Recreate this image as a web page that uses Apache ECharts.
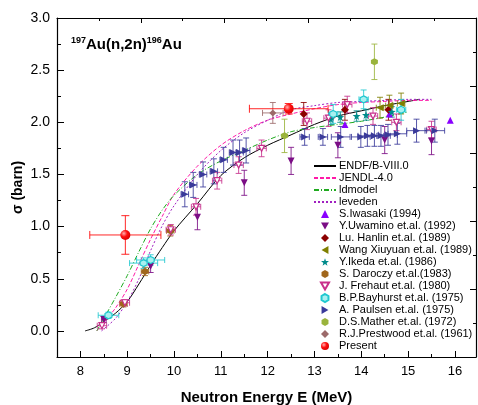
<!DOCTYPE html>
<html>
<head>
<meta charset="utf-8">
<script src="https://cdn.jsdelivr.net/npm/echarts@6/dist/echarts.min.js"></script>
<style>
html, body { margin: 0; padding: 0; background: #fff; }
#main { width: 478px; height: 405px; }
</style>
</head>
<body>
<div id="main"></div>
<script>
var chartDom = document.getElementById('main');
var myChart = echarts.init(chartDom);
var option;

var FONT = 'Liberation Sans, Arial, sans-serif';

// evaluated curves [E (MeV), sigma (barn)]
var endf = [[8.1, 0], [8.3, 0.03], [8.5, 0.09], [8.75, 0.17], [9.0, 0.28], [9.25, 0.45], [9.5, 0.63],
    [9.75, 0.80], [10.0, 0.96], [10.5, 1.22], [11.0, 1.49], [11.5, 1.66], [12.0, 1.78], [12.5, 1.88],
    [13.0, 1.98], [13.5, 2.06], [14.0, 2.11], [14.5, 2.16], [15.0, 2.20], [15.25, 2.22]];
var jendl = [[8.35, 0], [8.5, 0.08], [8.75, 0.22], [9.0, 0.40], [9.25, 0.64], [9.5, 0.88], [9.75, 1.10],
    [10.0, 1.31], [10.5, 1.58], [11.0, 1.78], [11.5, 1.92], [12.0, 2.02], [12.5, 2.08], [13.0, 2.13],
    [13.5, 2.17], [14.0, 2.19], [14.5, 2.20], [15.0, 2.21], [15.5, 2.21]];
var ldmodel = [[8.35, 0], [8.5, 0.12], [8.75, 0.32], [9.0, 0.53], [9.25, 0.76], [9.5, 0.98], [9.75, 1.16],
    [10.0, 1.30], [10.5, 1.50], [11.0, 1.63], [11.5, 1.73], [12.0, 1.83], [12.5, 1.91], [13.0, 1.95],
    [13.5, 1.98], [14.0, 2.01], [14.5, 2.05], [15.0, 2.10]];
var leveden = [[8.45, 0], [8.75, 0.12], [9.0, 0.28], [9.25, 0.50], [9.5, 0.77], [9.75, 1.01], [10.0, 1.20],
    [10.5, 1.50], [11.0, 1.73], [11.5, 1.90], [12.0, 2.02], [12.5, 2.12], [13.0, 2.16], [13.5, 2.19],
    [14.0, 2.20], [14.5, 2.21], [15.0, 2.22], [15.5, 2.22]];

// measurements [E, sigma, dE, dSigma]
var iwasaki = [[13.65, 1.98, 0, 0], [14.6, 2.08, 0, 0], [15.9, 2.02, 0, 0]];
var uwamino = [[8.5, 0.11, 0.05, 0.03], [9.5, 0.62, 0, 0.06], [10.5, 1.09, 0, 0.12], [11.5, 1.42, 0, 0.12],
    [12.5, 1.63, 0, 0.13], [13.5, 1.78, 0, 0.12], [14.5, 1.83, 0, 0.13], [15.5, 1.82, 0, 0.13]];
var luHanlin = [[12.77, 2.08, 0, 0.11], [13.65, 2.12, 0, 0.10], [14.58, 2.12, 0, 0.10]];
var wangXiuyuan = [[14.4, 2.14, 0.08, 0.10], [14.6, 2.16, 0.08, 0.10], [14.85, 2.18, 0.08, 0.10]];
var ikeda = [[13.35, 2.03, 0, 0.05], [13.55, 2.05, 0, 0.05], [13.9, 2.06, 0, 0.05], [14.1, 2.07, 0, 0.05],
    [14.65, 2.10, 0, 0.05]];
var daroczy = [[8.92, 0.26, 0.08, 0.03], [9.38, 0.57, 0.08, 0.04], [9.92, 0.96, 0.08, 0.05]];
var frehaut = [[8.46, 0.05, 0.1, 0.03], [8.95, 0.27, 0.1, 0.03], [9.93, 0.97, 0.1, 0.05], [10.47, 1.19, 0.1, 0.08],
    [10.92, 1.44, 0.1, 0.08], [11.38, 1.59, 0.1, 0.08], [11.87, 1.75, 0.1, 0.08], [12.84, 2.01, 0.1, 0.08],
    [13.3, 2.04, 0.1, 0.08], [13.7, 2.17, 0.1, 0.08], [14.25, 2.06, 0.1, 0.08], [14.75, 2.00, 0.1, 0.08],
    [15.5, 1.93, 0.1, 0.08]];
var bayhurst = [[8.6, 0.15, 0.22, 0.03], [9.35, 0.65, 0.3, 0.05], [9.5, 0.68, 0.3, 0.05], [13.4, 2.08, 0.1, 0.09],
    [14.05, 2.22, 0.1, 0.09], [14.85, 2.12, 0.1, 0.10]];
var paulsen = [[10.23, 1.31, 0.08, 0.12], [10.41, 1.40, 0.08, 0.12], [10.62, 1.50, 0.08, 0.12],
    [10.85, 1.53, 0.08, 0.12], [11.06, 1.64, 0.08, 0.12], [11.26, 1.71, 0.08, 0.12], [11.4, 1.71, 0.08, 0.12],
    [11.54, 1.73, 0.08, 0.12], [12.79, 1.86, 0.1, 0.08], [13.18, 1.86, 0.1, 0.08], [13.56, 1.86, 0.2, 0.1],
    [13.99, 1.86, 0.2, 0.1], [14.13, 1.87, 0.2, 0.1], [14.28, 1.87, 0.2, 0.1], [14.42, 1.87, 0.2, 0.1],
    [14.57, 1.88, 0.2, 0.1], [14.77, 1.89, 0.2, 0.1], [15.18, 1.92, 0.21, 0.11], [15.57, 1.92, 0.21, 0.11]];
var mather = [[12.36, 1.87, 0, 0.16], [14.28, 2.58, 0, 0.17]];
var prestwood = [[12.11, 2.09, 0.22, 0.10]];
var present = [[8.96, 0.92, 0.76, 0.185], [12.45, 2.13, 0.84, 0.05]];

var xLabels = [8, 9, 10, 11, 12, 13, 14, 15, 16];
var xMinor = [7.5, 8.5, 9.5, 10.5, 11.5, 12.5, 13.5, 14.5, 15.5];
var yLabels = [0, 0.5, 1, 1.5, 2, 2.5, 3];
var yMinor = [-0.25, 0.25, 0.75, 1.25, 1.75, 2.25, 2.75];

var hexagon = 'path://M0,-10 L8.66,-5 L8.66,5 L0,10 L-8.66,5 L-8.66,-5 Z';
var star = 'path://M0,-10 L2.35,-3.24 L9.51,-3.09 L3.8,1.24 L5.88,8.09 L0,4 L-5.88,8.09 L-3.8,1.24 L-9.51,-3.09 L-2.35,-3.24 Z';
var triDown = 'path://M-5,-4.3 L5,-4.3 L0,4.3 Z';
var triLeft = 'path://M-4.3,0 L4.3,-5 L4.3,5 Z';
var triRight = 'path://M4.3,0 L-4.3,-5 L-4.3,5 Z';

function errorBars(color, cap) {
    return function (params, api) {
        var x = api.value(0), y = api.value(1), dx = api.value(2), dy = api.value(3);
        var style = { stroke: color, lineWidth: 1, opacity: 0.85 };
        var kids = [];
        if (dx > 0) {
            var l = api.coord([x - dx, y]), r = api.coord([x + dx, y]);
            kids.push({ type: 'line', shape: { x1: l[0], y1: l[1], x2: r[0], y2: r[1] }, style: style });
            kids.push({ type: 'line', shape: { x1: l[0], y1: l[1] - cap, x2: l[0], y2: l[1] + cap }, style: style });
            kids.push({ type: 'line', shape: { x1: r[0], y1: r[1] - cap, x2: r[0], y2: r[1] + cap }, style: style });
        }
        if (dy > 0) {
            var t = api.coord([x, y + dy]), b = api.coord([x, y - dy]);
            kids.push({ type: 'line', shape: { x1: t[0], y1: t[1], x2: b[0], y2: b[1] }, style: style });
            kids.push({ type: 'line', shape: { x1: t[0] - cap, y1: t[1], x2: t[0] + cap, y2: t[1] }, style: style });
            kids.push({ type: 'line', shape: { x1: b[0] - cap, y1: b[1], x2: b[0] + cap, y2: b[1] }, style: style });
        }
        return { type: 'group', children: kids };
    };
}

var sets = [
    { name: 'S.Iwasaki (1994)', data: iwasaki, color: '#8a00ff', symbol: 'triangle', size: 7 },
    { name: 'Y.Uwamino et.al. (1992)', data: uwamino, color: '#7b0d85', symbol: triDown, size: 7 },
    { name: 'Lu. Hanlin et.al. (1989)', data: luHanlin, color: '#8b0000', symbol: 'diamond', size: 8 },
    { name: 'Wang Xiuyuan et.al. (1989)', data: wangXiuyuan, color: '#7f7f00', symbol: triLeft, size: 7 },
    { name: 'Y.Ikeda et.al. (1986)', data: ikeda, color: '#008b8b', symbol: star, size: 8 },
    { name: 'S. Daroczy et.al.(1983)', data: daroczy, color: '#a0661b', symbol: hexagon, size: 7 },
    { name: 'J. Frehaut et.al. (1980)', data: frehaut, color: '#c8308c', symbol: triDown, size: 6, open: true },
    { name: 'B.P.Bayhurst et.al. (1975)', data: bayhurst, color: '#20c8d0', symbol: hexagon, size: 7, light: '#a8f0f0' },
    { name: 'A. Paulsen et.al. (1975)', data: paulsen, color: '#3a3a9a', symbol: triRight, size: 7 },
    { name: 'D.S.Mather et.al. (1972)', data: mather, color: '#9ab43c', symbol: hexagon, size: 7 },
    { name: 'R.J.Prestwood et.al. (1961)', data: prestwood, color: '#9c6a6a', symbol: 'diamond', size: 7 },
    { name: 'Present', data: present, color: '#ff0000', symbol: 'circle', size: 10, cap: 4 }
];

var curves = [
    { name: 'ENDF/B-VIII.0', data: endf, color: '#000000', type: 'solid' },
    { name: 'JENDL-4.0', data: jendl, color: '#ff1aa8', type: [4, 2] },
    { name: 'ldmodel', data: ldmodel, color: '#1faa1f', type: [5, 2, 1, 2] },
    { name: 'leveden', data: leveden, color: '#a020c0', type: [2, 2] }
];

var series = curves.map(function (c) {
    return {
        name: c.name, type: 'line', data: c.data, smooth: 0.3, symbol: 'none', z: 2,
        itemStyle: { color: 'rgba(0,0,0,0)' },
        lineStyle: { color: c.color, width: 1, type: c.type }
    };
});

sets.forEach(function (s) {
    series.push({
        name: 'err ' + s.name, type: 'custom', data: s.data, z: 3,
        renderItem: errorBars(s.color, s.cap || 3),
        encode: { x: 0, y: 1 }
    });
    var fill = s.open ? '#ffffff' : (s.light || s.color);
    if (s.name === 'Present') {
        fill = { type: 'radial', x: 0.35, y: 0.35, r: 0.75,
            colorStops: [{ offset: 0, color: '#ffb0b0' }, { offset: 0.45, color: '#ff1010' }, { offset: 1, color: '#d00000' }] };
    }
    series.push({
        name: s.name, type: 'scatter', z: 4,
        data: s.data.map(function (d) { return [d[0], d[1]]; }),
        symbol: s.symbol, symbolSize: s.size,
        itemStyle: { color: fill, borderColor: s.color, borderWidth: (s.open || s.light) ? 1.2 : 0, opacity: 1 }
    });
});

var tickLine = { color: '#000', width: 1 };
var legendText = { fontSize: 11, fontFamily: FONT, color: '#000', lineHeight: 12 };

option = {
    animation: false,
    textStyle: { fontFamily: FONT },
    title: {
        left: 71, top: 36, padding: 0,
        text: '{s|197}{b|Au(n,2n)}{s|196}{b|Au}',
        textStyle: {
            rich: {
                s: { fontSize: 9, fontWeight: 'bold', fontFamily: FONT, color: '#000', verticalAlign: 'top', lineHeight: 18 },
                b: { fontSize: 15, fontWeight: 'bold', fontFamily: FONT, color: '#000', lineHeight: 18 }
            }
        }
    },
    legend: [{
        data: curves.map(function (c) { return c.name; }),
        orient: 'vertical', left: 313, top: 160, padding: 0,
        itemWidth: 22, itemHeight: 8, itemGap: 0, selectedMode: false,
        textStyle: Object.assign({ padding: [0, 0, 0, -2] }, legendText)
    }, {
        data: sets.map(function (s) { return { name: s.name, icon: s.symbol }; }),
        orient: 'vertical', left: 320, top: 208, padding: 0,
        itemWidth: 8, itemHeight: 8, itemGap: 0, selectedMode: false,
        textStyle: Object.assign({ padding: [0, 0, 0, 5] }, legendText)
    }],
    grid: { left: 57, right: 2, top: 18, bottom: 48, containLabel: false, outerBoundsMode: 'none' },
    xAxis: [{
        type: 'value', min: 7.5, max: 16.45, position: 'bottom',
        name: 'Neutron Energy E (MeV)', nameLocation: 'middle', nameGap: 33, nameMoveOverlap: false,
        nameTextStyle: { fontSize: 15, fontWeight: 'bold', color: '#000', fontFamily: FONT },
        axisLine: { show: true, onZero: false, lineStyle: { color: '#000', width: 1.2 } },
        axisTick: { inside: true, length: 6, customValues: xLabels, lineStyle: tickLine },
        axisLabel: { customValues: xLabels, fontSize: 13, color: '#000', margin: 8, fontFamily: FONT },
        splitLine: { show: false }
    }, {
        type: 'value', min: 7.5, max: 16.45, position: 'bottom',
        axisLine: { show: false, onZero: false },
        axisTick: { inside: true, length: 3, customValues: xMinor, lineStyle: tickLine },
        axisLabel: { show: false }, splitLine: { show: false }
    }, {
        type: 'value', min: 0, max: 10, position: 'top',
        axisLine: { show: true, onZero: false, lineStyle: { color: '#000', width: 1.2 } },
        axisTick: { inside: true, length: 5, customValues: [2, 4, 6, 8], lineStyle: tickLine },
        axisLabel: { show: false }, splitLine: { show: false }
    }, {
        type: 'value', min: 0, max: 10, position: 'top',
        axisLine: { show: false, onZero: false },
        axisTick: { inside: true, length: 3, customValues: [1, 3, 5, 7, 9], lineStyle: tickLine },
        axisLabel: { show: false }, splitLine: { show: false }
    }],
    yAxis: [{
        type: 'value', min: -0.25, max: 3, position: 'left',
        name: 'σ (barn)', nameLocation: 'middle', nameGap: 32, nameMoveOverlap: false,
        nameTextStyle: { fontSize: 14, fontWeight: 'bold', color: '#000', fontFamily: FONT },
        axisLine: { show: true, onZero: false, lineStyle: { color: '#000', width: 1.2 } },
        axisTick: { inside: true, length: 7, customValues: yLabels, lineStyle: tickLine },
        axisLabel: { customValues: yLabels, fontSize: 14, color: '#000', margin: 7, fontFamily: FONT,
            formatter: function (v) { return v.toFixed(1); } },
        splitLine: { show: false }
    }, {
        type: 'value', min: -0.25, max: 3, position: 'left',
        axisLine: { show: false, onZero: false },
        axisTick: { inside: true, length: 4, customValues: yMinor, lineStyle: tickLine },
        axisLabel: { show: false }, splitLine: { show: false }
    }, {
        type: 'value', min: 0, max: 10, position: 'right',
        axisLine: { show: true, onZero: false, lineStyle: { color: '#000', width: 1.2 } },
        axisTick: { inside: true, length: 6, customValues: [2, 4, 6, 8], lineStyle: tickLine },
        axisLabel: { show: false }, splitLine: { show: false }
    }, {
        type: 'value', min: 0, max: 10, position: 'right',
        axisLine: { show: false, onZero: false },
        axisTick: { inside: true, length: 3, customValues: [1, 3, 5, 7, 9], lineStyle: tickLine },
        axisLabel: { show: false }, splitLine: { show: false }
    }],
    series: series
};

option && myChart.setOption(option);
</script>
</body>
</html>
